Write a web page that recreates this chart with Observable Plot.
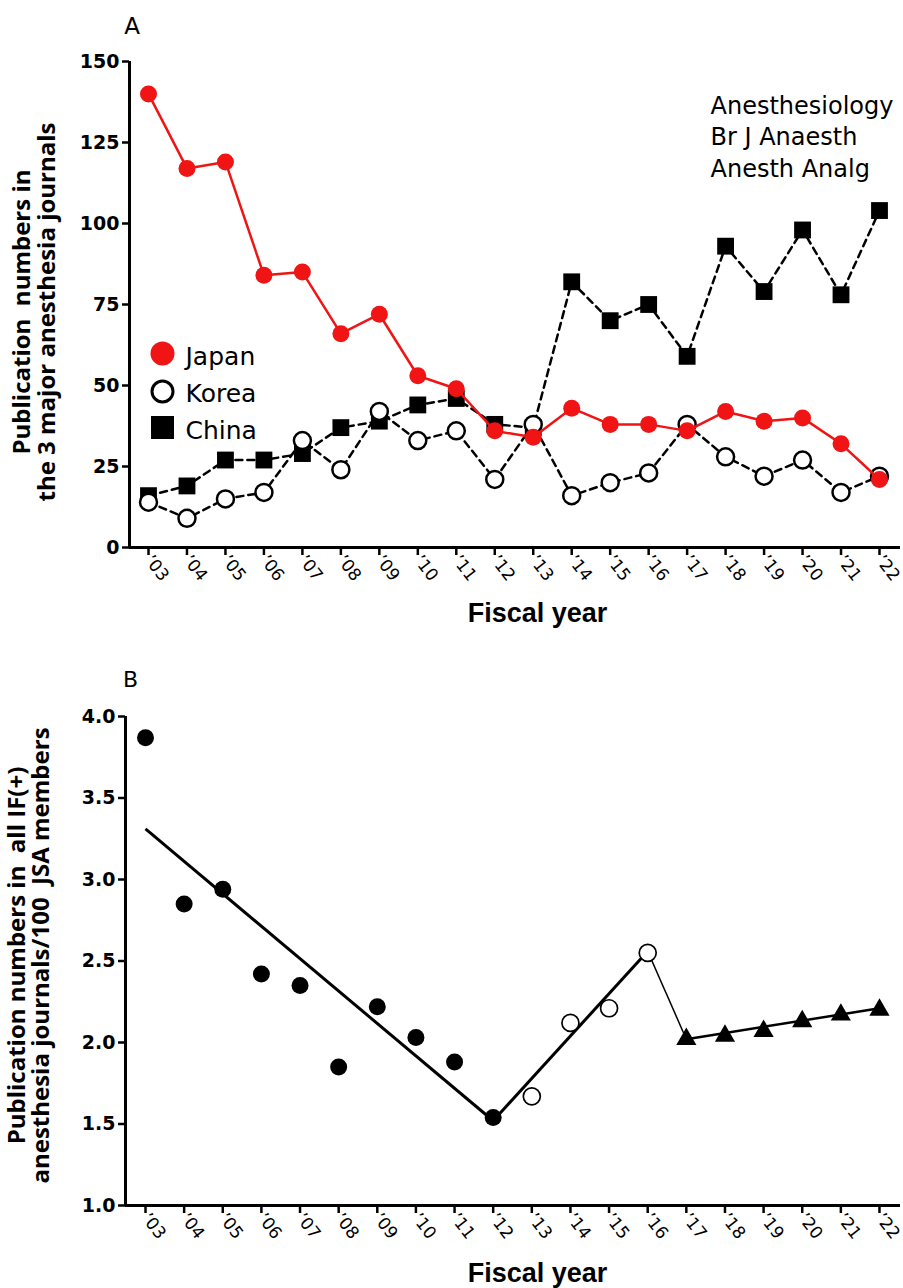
<!DOCTYPE html>
<html><head><meta charset="utf-8">
<script src="https://cdn.jsdelivr.net/npm/d3@7"></script>
<script src="https://cdn.jsdelivr.net/npm/@observablehq/plot@0.6"></script>
<style>
body{margin:0;background:#fff;}
#chart{width:903px;}
#chart svg{display:block;}
</style></head><body><div id="chart"></div>
<script>
// ---------- data ----------
const years = [3,4,5,6,7,8,9,10,11,12,13,14,15,16,17,18,19,20,21,22];
const yearLabels = ["’03","’04","’05","’06","’07","’08","’09","’10","’11","’12","’13","’14","’15","’16","’17","’18","’19","’20","’21","’22"];
const japan = [140,117,119,84,85,66,72,53,49,36,34,43,38,38,36,42,39,40,32,21];
const korea = [14,9,15,17,33,24,42,33,36,21,38,16,20,23,38,28,22,27,17,22];
const china = [16,19,27,27,29,37,39,44,46,38,37,82,70,75,59,93,79,98,78,104];
const legendNames = ["Japan","Korea","China"];
const journals = ["Anesthesiology","Br J Anaesth","Anesth Analg"];
const yTicksA = [0,25,50,75,100,125,150];
const titleA = "Publication\u00a0 numbers in\nthe 3 major anesthesia journals";

const rateB = [3.87,2.85,2.94,2.42,2.35,1.85,2.22,2.03,1.88,1.54,1.67,2.12,2.21,2.55,2.02,2.04,2.07,2.13,2.17,2.20];
const groupB = ["filled","filled","filled","filled","filled","filled","filled","filled","filled","filled","open","open","open","open","triangle","triangle","triangle","triangle","triangle","triangle"];
const fitX1 = [3,12,16,17];
const fitY1 = [3.31,1.52,2.56,2.02];
const fitX2 = [12,16,17,22];
const fitY2 = [1.52,2.56,2.02,2.21];
const yTicksB = [1.0,1.5,2.0,2.5,3.0,3.5,4.0];
const titleB = "Publication numbers in\u00a0 all IF(+)\nanesthesia journals/100\u00a0 JSA members";
const xTitle = "Fiscal year";

// ---------- styles ----------
const RED = "#f01414";
const FONT = "DejaVu Sans";
const fitWidths = [3,3,1.5,2.5];
const tf = d => yearLabels[years.indexOf(d)];

const rowsA = years.map((y,i)=>({year:y, japan:japan[i], korea:korea[i], china:china[i]}));
const rowsB = years.map((y,i)=>({year:y, v:rateB[i], g:groupB[i]}));
const fits = fitX1.map((x,i)=>({x1:x, y1:fitY1[i], x2:fitX2[i], y2:fitY2[i], w:fitWidths[i]}));

const xA = [2.506, 22.546];
const plotA = Plot.plot({
  width:903, height:640,
  marginLeft:129, marginRight:3, marginTop:61, marginBottom:93,
  style:{fontFamily:FONT, background:"white", color:"black", overflow:"visible"},
  x:{domain:xA},
  y:{domain:[0,150]},
  marks:[
    Plot.axisY({ticks:yTicksA, tickSize:7, tickPadding:3, fontSize:19, fontWeight:"bold", strokeWidth:2.5, label:null}),
    Plot.axisX({ticks:years, tickFormat:tf, tickSize:8, tickPadding:2, tickRotate:52, fontSize:17, strokeWidth:2.5, label:null}),
    Plot.ruleX([xA[0]], {strokeWidth:3}),
    Plot.ruleY([0], {strokeWidth:3}),
    Plot.line(rowsA,{x:"year", y:"china", stroke:"black", strokeWidth:2.5, strokeDasharray:"7,5"}),
    Plot.dot(rowsA,{x:"year", y:"china", symbol:"square", r:9.5, fill:"black"}),
    Plot.line(rowsA,{x:"year", y:"korea", stroke:"black", strokeWidth:2.5, strokeDasharray:"7,5"}),
    Plot.dot(rowsA,{x:"year", y:"korea", r:8.5, fill:"white", stroke:"black", strokeWidth:2.5}),
    Plot.line(rowsA,{x:"year", y:"japan", stroke:RED, strokeWidth:2.5}),
    Plot.dot(rowsA,{x:"year", y:"japan", r:8.5, fill:RED}),
    // legend
    Plot.dot([legendNames[0]], {frameAnchor:"top-left", dx:33, dy:292, r:12, fill:RED}),
    Plot.dot([legendNames[1]], {frameAnchor:"top-left", dx:33, dy:330, r:10.5, fill:"white", stroke:"black", strokeWidth:3}),
    Plot.dot([legendNames[2]], {frameAnchor:"top-left", dx:33, dy:366, symbol:"square", r:13, fill:"black"}),
    Plot.text([legendNames.join("\n")], {frameAnchor:"top-left", dx:56, dy:329, textAnchor:"start", lineAnchor:"middle", fontSize:25, lineHeight:1.48}),
    Plot.text([journals.join("\n")], {frameAnchor:"top-left", dx:581, dy:30, textAnchor:"start", lineAnchor:"top", fontSize:24, lineHeight:1.31}),
    Plot.text(["A"], {frameAnchor:"top-left", dx:2.5, dy:-34.5, textAnchor:"middle", lineAnchor:"middle", fontSize:23}),
    Plot.text([titleA], {frameAnchor:"left", dx:-95, dy:7.5, rotate:-90, textAnchor:"middle", lineAnchor:"middle", fontSize:24, fontWeight:"bold", fontFamily:"Open Sans", lineHeight:1.05}),
    Plot.text([xTitle], {frameAnchor:"bottom", dx:22.5, dy:65.5, textAnchor:"middle", lineAnchor:"middle", fontSize:27, fontWeight:"bold", fontFamily:"Liberation Sans"})
  ]
});

const xB = [2.482, 22.544];
const plotB = Plot.plot({
  width:903, height:648,
  marginLeft:125, marginRight:3, marginTop:76, marginBottom:83,
  style:{fontFamily:FONT, background:"white", color:"black", overflow:"visible"},
  x:{domain:xB},
  y:{domain:[1,4]},
  marks:[
    Plot.axisY({ticks:yTicksB, tickFormat:d3.format(".1f"), tickSize:7, tickPadding:3, fontSize:19, fontWeight:"bold", strokeWidth:2.5, label:null}),
    Plot.axisX({ticks:years, tickFormat:tf, tickSize:8, tickPadding:2, tickRotate:52, fontSize:17, strokeWidth:2.5, label:null}),
    Plot.ruleX([xB[0]], {strokeWidth:3}),
    Plot.ruleY([1], {strokeWidth:3}),
    Plot.link(fits, {x1:"x1", y1:"y1", x2:"x2", y2:"y2", stroke:"black", strokeWidth:d=>d.w}),
    Plot.dot(rowsB.filter(d=>d.g==="filled"), {x:"year", y:"v", r:8.5, fill:"black"}),
    Plot.dot(rowsB.filter(d=>d.g==="open"), {x:"year", y:"v", r:8.5, fill:"white", stroke:"black", strokeWidth:1.7}),
    Plot.dot(rowsB.filter(d=>d.g==="triangle"), {x:"year", y:"v", symbol:"triangle", r:7.5, fill:"black"}),
    Plot.text(["B"], {frameAnchor:"top-left", dx:5, dy:-36.5, textAnchor:"middle", lineAnchor:"middle", fontSize:22}),
    Plot.text([titleB], {frameAnchor:"left", dx:-96, dy:-5.5, rotate:-90, textAnchor:"middle", lineAnchor:"middle", fontSize:24, fontWeight:"bold", fontFamily:"Open Sans", lineHeight:1.0}),
    Plot.text([xTitle], {frameAnchor:"bottom", dx:24.5, dy:67.5, textAnchor:"middle", lineAnchor:"middle", fontSize:27, fontWeight:"bold", fontFamily:"Liberation Sans"})
  ]
});

document.getElementById("chart").append(plotA, plotB);
</script></body></html>
